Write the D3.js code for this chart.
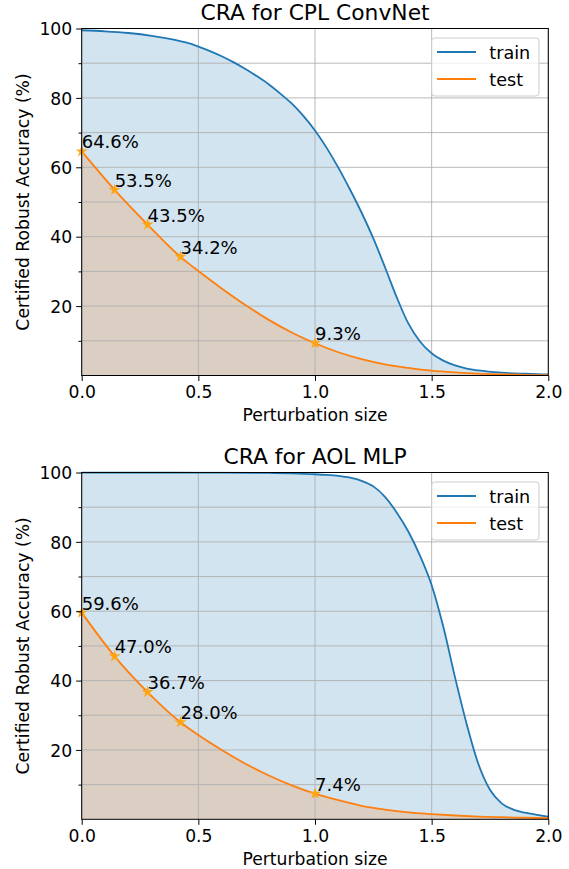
<!DOCTYPE html>
<html><head><meta charset="utf-8">
<script src="https://cdn.jsdelivr.net/npm/d3@7"></script>
<style>
body{margin:0;background:#fff}
text{font-family:"DejaVu Sans",sans-serif;fill:#000}
</style>
</head><body>
<svg id="c" width="569" height="869"></svg>
<script>
// ---------- data ----------
const titles = ["CRA for CPL ConvNet", "CRA for AOL MLP"];
const seriesNames = ["train", "test"];
const xLabel = "Perturbation size";
const yLabel = "Certified Robust Accuracy (%)";
const xTicks = [0, 0.5, 1.0, 1.5, 2.0];
const xTickLabels = ["0.0", "0.5", "1.0", "1.5", "2.0"];
const yTicks = [20, 40, 60, 80, 100];
const yTickLabels = ["20", "40", "60", "80", "100"];
const yMinorTicks = [10, 30, 50, 70, 90];

const markerEps = [0, 0.1412, 0.2824, 0.4235, 1.0];

// CPL ConvNet
const cplTrainEps = [0, 0.1, 0.2, 0.3, 0.4, 0.45, 0.5, 0.55, 0.6, 0.65, 0.7, 0.75, 0.8, 0.85, 0.9, 0.95, 1.0, 1.05, 1.1, 1.15, 1.2, 1.25, 1.3, 1.35, 1.4, 1.45, 1.5, 1.55, 1.6, 1.65, 1.7, 1.8, 1.9, 2.0];
const cplTrainAcc = [99.5, 99.2, 98.7, 97.9, 96.7, 95.9, 94.8, 93.5, 92.0, 90.3, 88.4, 86.3, 84.0, 81.3, 78.4, 74.8, 70.6, 65.6, 59.9, 53.6, 46.9, 39.5, 31.2, 22.6, 15.0, 9.8, 6.4, 4.3, 2.9, 2.0, 1.45, 0.8, 0.5, 0.3];
const cplTestEps = [0, 0.1412, 0.2824, 0.4235, 0.5, 0.6, 0.7, 0.8, 0.9, 1.0, 1.1, 1.2, 1.3, 1.4, 1.5, 1.6, 1.7, 1.8, 1.9, 2.0];
const cplTestAcc = [64.6, 53.5, 43.5, 34.2, 30.1, 25.1, 20.4, 16.1, 12.4, 9.3, 6.7, 4.7, 3.2, 2.2, 1.4, 0.9, 0.55, 0.35, 0.2, 0.1];
const cplMarkerAcc = [64.6, 53.5, 43.5, 34.2, 9.3];

// AOL MLP
const aolTrainEps = [0, 0.4, 0.6, 0.8, 0.9, 1.0, 1.05, 1.1, 1.15, 1.2, 1.25, 1.3, 1.35, 1.4, 1.45, 1.5, 1.55, 1.6, 1.65, 1.7, 1.75, 1.8, 1.85, 1.9, 1.95, 2.0];
const aolTrainAcc = [100, 100, 99.97, 99.88, 99.75, 99.5, 99.3, 99.0, 98.5, 97.6, 96.0, 93.0, 88.5, 83.0, 76.0, 67.5, 55.5, 41.0, 27.5, 16.0, 8.5, 4.6, 2.8, 1.9, 1.3, 0.8];
const aolTestEps = [0, 0.1412, 0.2824, 0.4235, 0.5, 0.6, 0.7, 0.8, 0.9, 1.0, 1.1, 1.2, 1.3, 1.4, 1.5, 1.6, 1.7, 1.8, 1.9, 2.0];
const aolTestAcc = [59.6, 47.0, 36.7, 28.0, 24.3, 20.0, 16.1, 12.7, 9.8, 7.4, 5.5, 3.9, 2.8, 2.0, 1.5, 1.1, 0.8, 0.6, 0.45, 0.3];
const aolMarkerAcc = [59.6, 47.0, 36.7, 28.0, 7.4];

// ---------- drawing ----------
const C_TRAIN = "#1f77b4", C_TEST = "#ff7f0e";
const svg = d3.select("#c");
const L = 81.7, R = 548.3;
const panels = [
  {top: 28.5, bottom: 375.5, title: titles[0],
   train: [cplTrainEps, cplTrainAcc], test: [cplTestEps, cplTestAcc], marks: cplMarkerAcc},
  {top: 472.5, bottom: 819.3, title: titles[1],
   train: [aolTrainEps, aolTrainAcc], test: [aolTestEps, aolTestAcc], marks: aolMarkerAcc}
];

const FS = 17.2, FS_ANN = 18, FS_TITLE = 21.8, FS_LEG = 17.6;

panels.forEach((p, pi) => {
  const x = d3.scaleLinear().domain([0, 2]).range([L, R]);
  const y = d3.scaleLinear().domain([0, 100]).range([p.bottom, p.top]);
  const g = svg.append("g");
  const clipId = "clip" + pi;
  g.append("clipPath").attr("id", clipId).append("rect")
    .attr("x", L).attr("y", p.top - 1).attr("width", R - L).attr("height", p.bottom - p.top + 1);

  const toPts = s => s[0].map((e, i) => [e, s[1][i]]);
  const trainPts = toPts(p.train), testPts = toPts(p.test);
  const area = d3.area().x(d => x(d[0])).y0(y(0)).y1(d => y(d[1])).curve(d3.curveMonotoneX);
  const line = d3.line().x(d => x(d[0])).y(d => y(d[1])).curve(d3.curveMonotoneX);

  const pg = g.append("g").attr("clip-path", `url(#${clipId})`);
  pg.append("path").attr("d", area(trainPts)).attr("fill", C_TRAIN).attr("fill-opacity", 0.2);
  pg.append("path").attr("d", area(testPts)).attr("fill", C_TEST).attr("fill-opacity", 0.2);

  // grid
  const grid = g.append("g").attr("stroke", "#b0b0b0").attr("stroke-width", 0.9);
  xTicks.forEach(t => grid.append("line").attr("x1", x(t)).attr("x2", x(t)).attr("y1", p.top).attr("y2", p.bottom));
  yTicks.concat(yMinorTicks).forEach(t => grid.append("line").attr("x1", L).attr("x2", R).attr("y1", y(t)).attr("y2", y(t)));

  // lines
  const lg = g.append("g").attr("clip-path", `url(#${clipId})`);
  lg.append("path").attr("d", line(trainPts)).attr("fill", "none").attr("stroke", C_TRAIN).attr("stroke-width", 1.8);
  lg.append("path").attr("d", line(testPts)).attr("fill", "none").attr("stroke", C_TEST).attr("stroke-width", 1.8);

  // markers + annotations
  const star = d3.symbol().type(d3.symbolStar).size(45);
  markerEps.forEach((e, i) => {
    const v = p.marks[i];
    g.append("path").attr("d", star()).attr("transform", `translate(${x(e)},${y(v)})`)
      .attr("fill", "#ffa514");
    g.append("text").attr("x", x(e)).attr("y", y(v) - 3).attr("font-size", FS_ANN)
      .text(v.toFixed(1) + "%");
  });

  // spines
  g.append("rect").attr("x", L).attr("y", p.top).attr("width", R - L).attr("height", p.bottom - p.top)
    .attr("fill", "none").attr("stroke", "#000").attr("stroke-width", 1);

  // axes
  const xAxis = d3.axisBottom(x).tickValues(xTicks).tickFormat((d, i) => xTickLabels[i]).tickSize(5.5).tickPadding(4);
  const xa = g.append("g").attr("transform", `translate(0,${p.bottom})`).call(xAxis);
  xa.select(".domain").remove();
  xa.selectAll("text").attr("font-size", FS).attr("font-family", "DejaVu Sans").attr("fill", "#000").attr("dy", "0.76em");
  const yAxis = d3.axisLeft(y).tickValues(yTicks).tickFormat((d, i) => yTickLabels[i]).tickSize(5.5).tickPadding(4);
  const ya = g.append("g").attr("transform", `translate(${L},0)`).call(yAxis);
  ya.select(".domain").remove();
  ya.selectAll("text").attr("font-size", FS).attr("font-family", "DejaVu Sans").attr("fill", "#000").attr("dy", "0.36em");
  const yMin = d3.axisLeft(y).tickValues(yMinorTicks).tickFormat("").tickSize(3.2);
  const ym = g.append("g").attr("transform", `translate(${L},0)`).call(yMin);
  ym.select(".domain").remove();

  // labels
  g.append("text").attr("x", (L + R) / 2).attr("y", p.top - 8.5).attr("text-anchor", "middle")
    .attr("font-size", FS_TITLE).text(p.title);
  g.append("text").attr("x", (L + R) / 2).attr("y", p.bottom + 45.5).attr("text-anchor", "middle")
    .attr("font-size", FS).text(xLabel);
  g.append("text").attr("transform", `translate(29,${(p.top + p.bottom) / 2}) rotate(-90)`)
    .attr("text-anchor", "middle").attr("font-size", FS).text(yLabel);

  // legend
  const lx = 431.7, ly = p.top + 9.5;
  const leg = g.append("g");
  leg.append("rect").attr("x", lx).attr("y", ly).attr("width", 107.3).attr("height", 58)
    .attr("rx", 3).attr("fill", "#fff").attr("fill-opacity", 0.8).attr("stroke", "#cccccc").attr("stroke-width", 1);
  [C_TRAIN, C_TEST].forEach((c, i) => {
    const yy = ly + 14 + i * 27;
    leg.append("line").attr("x1", lx + 5.3).attr("x2", lx + 44.3).attr("y1", yy).attr("y2", yy)
      .attr("stroke", c).attr("stroke-width", 1.8);
    leg.append("text").attr("x", lx + 57.6).attr("y", yy + 6.5).attr("font-size", FS_LEG).text(seriesNames[i]);
  });
});
</script>
</body></html>
